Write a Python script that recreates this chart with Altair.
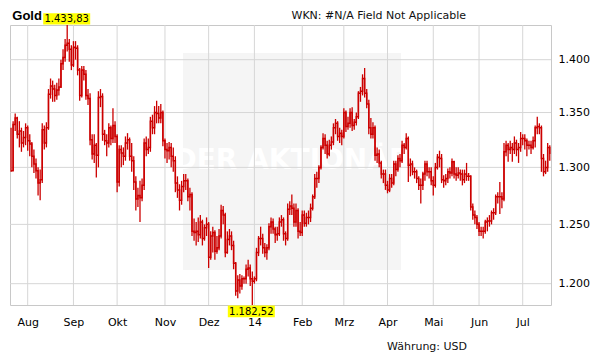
import altair as alt
import pandas as pd

# ---- data ----
close = [
    1297, 1339, 1345, 1330, 1333, 1322, 1327, 1336, 1324, 1321,
    1310, 1303, 1297, 1286, 1289, 1334, 1322, 1336, 1367, 1375,
    1372, 1366, 1371, 1374, 1396, 1402, 1414, 1416, 1410, 1395,
    1412, 1411, 1390, 1366, 1390, 1386, 1366, 1363, 1325, 1312,
    1320, 1311, 1364, 1365, 1330, 1324, 1322, 1336, 1326, 1338,
    1328, 1287, 1316, 1313, 1310, 1322, 1325, 1310, 1306, 1287,
    1272, 1275, 1273, 1284, 1322, 1316, 1318, 1342, 1336, 1350,
    1349, 1345, 1350, 1324, 1316, 1315, 1318, 1310, 1306, 1286,
    1280, 1271, 1283, 1288, 1288, 1274, 1276, 1244, 1243, 1244,
    1241, 1252, 1238, 1247, 1250, 1222, 1240, 1243, 1227, 1230,
    1240, 1262, 1258, 1226, 1237, 1240, 1232, 1217, 1194, 1203,
    1198, 1204, 1204, 1212, 1213, 1204, 1202, 1204, 1226, 1238,
    1238, 1230, 1226, 1230, 1248, 1252, 1246, 1241, 1242, 1252,
    1254, 1242, 1238, 1263, 1266, 1264, 1252, 1262, 1244, 1243,
    1258, 1251, 1256, 1256, 1264, 1274, 1290, 1290, 1300, 1318,
    1326, 1320, 1312, 1320, 1323, 1336, 1340, 1328, 1331, 1328,
    1350, 1337, 1340, 1350, 1338, 1341, 1346, 1368, 1370, 1382,
    1368, 1358, 1336, 1330, 1336, 1311, 1312, 1304, 1294, 1294,
    1284, 1280, 1290, 1286, 1303, 1298, 1308, 1306, 1320, 1318,
    1326, 1302, 1303, 1296, 1296, 1290, 1284, 1284, 1294, 1303,
    1296, 1296, 1288, 1284, 1300, 1309, 1308, 1289, 1288, 1290,
    1296, 1295, 1305, 1294, 1293, 1295, 1294, 1289, 1294, 1292,
    1292, 1265, 1258, 1256, 1250, 1244, 1244, 1244, 1252, 1253,
    1253, 1260, 1260, 1274, 1274, 1274, 1272, 1314, 1320, 1316,
    1318, 1316, 1322, 1316, 1318, 1326, 1326, 1324, 1320, 1320,
    1318, 1324, 1336, 1337, 1336, 1308, 1296, 1300, 1318, 1312,
]

high = [
    1336, 1342, 1349, 1346, 1342, 1336, 1333, 1340, 1338, 1330,
    1323, 1316, 1308, 1300, 1298, 1340, 1338, 1341, 1372, 1382,
    1380, 1376, 1378, 1382, 1400, 1410, 1420, 1433.83, 1420, 1414,
    1418, 1418, 1414, 1392, 1394, 1394, 1390, 1372, 1368, 1330,
    1330, 1322, 1370, 1372, 1368, 1334, 1330, 1340, 1338, 1354,
    1342, 1330, 1320, 1320, 1318, 1328, 1331, 1327, 1322, 1310,
    1292, 1282, 1288, 1290, 1326, 1328, 1326, 1346, 1348, 1356,
    1361, 1356, 1358, 1352, 1326, 1322, 1323, 1322, 1318, 1310,
    1292, 1285, 1288, 1294, 1294, 1290, 1282, 1278, 1255, 1252,
    1256, 1258, 1254, 1250, 1256, 1252, 1244, 1248, 1245, 1240,
    1246, 1267, 1266, 1260, 1244, 1246, 1244, 1236, 1218, 1207,
    1208, 1207, 1206, 1216, 1220, 1216, 1210, 1206, 1230, 1240,
    1248, 1242, 1234, 1233, 1251, 1256, 1255, 1248, 1248, 1256,
    1258, 1256, 1244, 1268, 1270, 1276, 1268, 1268, 1264, 1252,
    1262, 1262, 1260, 1262, 1268, 1276, 1294, 1296, 1302, 1320,
    1331, 1330, 1324, 1325, 1328, 1340, 1344, 1342, 1336, 1334,
    1354, 1352, 1346, 1354, 1355, 1344, 1350, 1370, 1374, 1386,
    1392, 1372, 1362, 1345, 1341, 1338, 1318, 1316, 1306, 1298,
    1298, 1288, 1294, 1294, 1306, 1306, 1311, 1312, 1324, 1322,
    1331, 1328, 1308, 1306, 1300, 1298, 1292, 1290, 1296, 1306,
    1306, 1300, 1300, 1292, 1304, 1312, 1315, 1312, 1293, 1294,
    1299, 1300, 1308, 1306, 1300, 1300, 1298, 1298, 1298, 1304,
    1295, 1293, 1268, 1262, 1258, 1252, 1248, 1248, 1254, 1256,
    1258, 1262, 1264, 1276, 1278, 1287, 1278, 1322, 1324, 1322,
    1324, 1322, 1328, 1325, 1322, 1332, 1330, 1330, 1326, 1324,
    1324, 1328, 1338, 1346, 1340, 1338, 1312, 1306, 1322, 1320,
]

low = [
    1296, 1297, 1333, 1326, 1318, 1314, 1318, 1320, 1315, 1310,
    1300, 1295, 1290, 1275, 1271, 1286, 1316, 1318, 1334, 1363,
    1360, 1360, 1362, 1366, 1373, 1390, 1398, 1408, 1398, 1390,
    1393, 1400, 1385, 1361, 1364, 1380, 1362, 1357, 1320, 1307,
    1304, 1291, 1300, 1355, 1324, 1320, 1310, 1318, 1320, 1322,
    1322, 1278, 1283, 1300, 1302, 1306, 1316, 1306, 1296, 1280,
    1262, 1265, 1252, 1270, 1280, 1310, 1312, 1314, 1330, 1330,
    1340, 1340, 1340, 1319, 1308, 1304, 1307, 1300, 1296, 1278,
    1273, 1262, 1267, 1278, 1280, 1270, 1262, 1240, 1236, 1232,
    1235, 1238, 1232, 1236, 1240, 1213, 1220, 1226, 1220, 1225,
    1228, 1238, 1250, 1222, 1225, 1232, 1228, 1212, 1190, 1188,
    1192, 1195, 1200, 1200, 1206, 1198, 1182.52, 1200, 1202, 1223,
    1232, 1225, 1222, 1220, 1228, 1242, 1242, 1234, 1236, 1240,
    1248, 1236, 1232, 1236, 1258, 1258, 1248, 1248, 1238, 1240,
    1240, 1248, 1248, 1250, 1252, 1262, 1272, 1282, 1286, 1298,
    1316, 1312, 1308, 1310, 1316, 1320, 1330, 1324, 1322, 1320,
    1326, 1332, 1334, 1336, 1333, 1334, 1338, 1344, 1360, 1366,
    1364, 1354, 1330, 1326, 1326, 1306, 1304, 1300, 1290, 1286,
    1280, 1277, 1278, 1282, 1284, 1292, 1296, 1300, 1304, 1312,
    1316, 1287, 1292, 1293, 1290, 1286, 1280, 1268, 1280, 1288,
    1292, 1290, 1284, 1275, 1282, 1298, 1300, 1286, 1282, 1284,
    1286, 1290, 1292, 1290, 1288, 1290, 1288, 1284, 1286, 1288,
    1288, 1262, 1254, 1250, 1246, 1240, 1240, 1238, 1242, 1244,
    1248, 1250, 1254, 1258, 1268, 1259, 1264, 1270, 1310, 1305,
    1312, 1305, 1312, 1310, 1304, 1314, 1320, 1316, 1310, 1316,
    1312, 1316, 1318, 1330, 1330, 1296, 1292, 1294, 1296, 1306,
]

month_idx = [8, 30, 51, 74, 95, 117, 140, 160, 181, 203, 225, 246]
month_lbl = ["Aug", "Sep", "Okt", "Nov", "Dez", "14", "Feb", "Mrz", "Apr", "Mai", "Jun", "Jul"]
y_ticks = [1200, 1250, 1300, 1350, 1400]

title_text = "Gold"
wkn_text = "WKN: #N/A Field Not Applicable"
currency_text = "Währung: USD"
watermark_text = "DER AKTIONÄR"

# ---- build tables ----
dates = pd.bdate_range("2013-07-22", periods=len(close))
df = pd.DataFrame({"i": list(range(len(close))), "date": dates,
                   "close": close, "high": high, "low": low})

ymax = max(high)
ymin = min(low)
imax = high.index(ymax)
imin = low.index(ymin)


def de(v):
    return f"{v:,.2f}".replace(",", "X").replace(".", ",").replace("X", ".")


RED = "#cc0000"
GRID = "#d6d6d6"
FONT = "DejaVu Sans"

xscale = alt.Scale(domain=[-0.5, len(close) - 0.4], nice=False, zero=False)
yscale = alt.Scale(type="log", domain=[ymin, ymax], nice=False, zero=False)

lbl_arr = "[" + ",".join(f"'{s}'" for s in month_lbl) + "]"
idx_arr = "[" + ",".join(str(v) for v in month_idx) + "]"

x_axis = alt.Axis(values=month_idx, labelExpr=f"{lbl_arr}[indexof({idx_arr}, datum.value)]",
                  grid=False, ticks=False, domain=False, labelPadding=11, labelFontSize=11,
                  labelFont=FONT, labelColor="#000", title=None, labelAngle=0,
                  labelOverlap=False, labelFlush=False)
y_axis = alt.Axis(orient="right", values=y_ticks,
                  labelExpr="replace(format(datum.value, ',.0f'), ',', '.')",
                  grid=False, ticks=False, domain=False, labelPadding=7, labelFontSize=11,
                  labelFont=FONT, labelColor="#000", title=None, labelOverlap=False,
                  labelFlush=False)


def X(f):
    return alt.X(f, type="quantitative", scale=xscale, axis=x_axis)


def Y(f):
    return alt.Y(f, type="quantitative", scale=yscale, axis=y_axis)


one = pd.DataFrame({"a": [0]})

wm_rect = alt.Chart(one).mark_rect(color="#f5f5f5").encode(
    x=alt.value(173), x2=alt.value(391), y=alt.value(28), y2=alt.value(245))
wm_text = alt.Chart(one).mark_text(
    text=watermark_text, font=FONT, fontSize=28, fontWeight="bold", color="#ffffff",
    align="center", baseline="middle").encode(x=alt.value(282), y=alt.value(136))

vgrid = alt.Chart(pd.DataFrame({"i": month_idx})).mark_rule(color=GRID, strokeWidth=1).encode(
    x=X("i"))
hgrid = alt.Chart(pd.DataFrame({"p": y_ticks})).mark_rule(color=GRID, strokeWidth=1).encode(
    y=Y("p"))

hl = alt.Chart(df).mark_rule(color=RED, strokeWidth=1.3).encode(
    x=X("i"), y=Y("low"), y2="high:Q")
line = alt.Chart(df).mark_line(color=RED, strokeWidth=1.5, interpolate="step-after").encode(
    x=X("i"), y=Y("close"))

dmax = pd.DataFrame({"i": [imax], "t": [de(ymax)]})
dmin = pd.DataFrame({"i": [imin], "t": [de(ymin)]})

max_box = alt.Chart(dmax).mark_rect(color="#ffff00", xOffset=-24, x2Offset=23).encode(
    x=X("i"), x2="i:Q", y=alt.value(-11.7), y2=alt.value(-0.5))
max_txt = alt.Chart(dmax).mark_text(font=FONT, fontSize=10, color="#000", align="center",
                                    baseline="middle", dx=-0.5).encode(
    x=X("i"), y=alt.value(-5.8), text="t:N")
min_box = alt.Chart(dmin).mark_rect(color="#ffff00", xOffset=-24.5, x2Offset=22.5).encode(
    x=X("i"), x2="i:Q", y=alt.value(280.5), y2=alt.value(292.3))
min_txt = alt.Chart(dmin).mark_text(font=FONT, fontSize=10, color="#000", align="center",
                                    baseline="middle", dx=-1).encode(
    x=X("i"), y=alt.value(286.6), text="t:N")

t_gold = alt.Chart(one).mark_text(text=title_text, font="Liberation Sans", fontSize=13,
                                  fontWeight="bold", color="#000", align="left",
                                  baseline="alphabetic").encode(x=alt.value(2.3), y=alt.value(-5.3))
t_wkn = alt.Chart(one).mark_text(text=wkn_text, font=FONT, fontSize=11, color="#111",
                                 align="left", baseline="alphabetic").encode(
    x=alt.value(281.5), y=alt.value(-6.5))
t_cur = alt.Chart(one).mark_text(text=currency_text, font=FONT, fontSize=11, color="#111",
                                 align="left", baseline="alphabetic").encode(
    x=alt.value(377), y=alt.value(324.8))

chart = alt.layer(
    wm_rect, wm_text, vgrid, hgrid, hl, line,
    max_box, max_txt, min_box, min_txt, t_gold, t_wkn, t_cur
).properties(
    width=541, height=280,
    autosize=alt.AutoSizeParams(type="none"),
    padding={"left": 2, "top": 17, "right": 50, "bottom": 56},
    background="#ffffff",
).configure_view(stroke="#c8c8c8", strokeWidth=1)

chart.save("out.html", embed_options={"renderer": "svg", "actions": False})
